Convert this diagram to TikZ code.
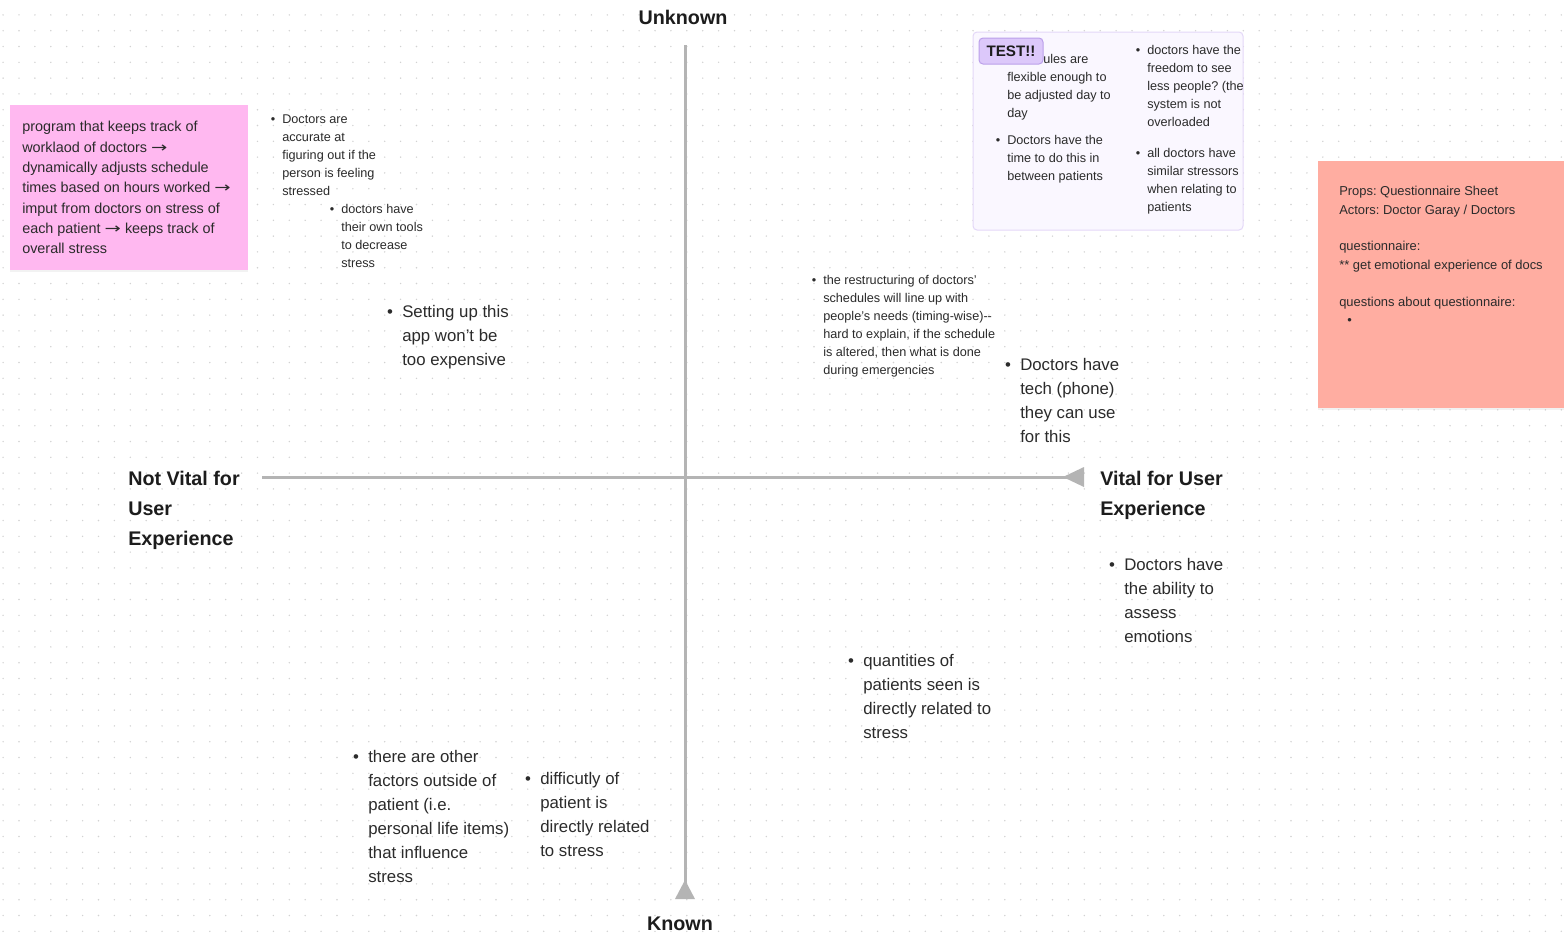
\documentclass[tikz,border=0pt]{standalone}
\usepackage{fontspec}
\setmainfont{Liberation Sans}
\newfontfamily\arrowfont{DejaVu Sans}
\usetikzlibrary{shadows,calc}
\definecolor{axisc}{HTML}{B4B4B4}
\definecolor{dotc}{HTML}{D2D2D2}
\definecolor{txt}{HTML}{2B2B2B}
\definecolor{head}{HTML}{1C1C1C}
\definecolor{pinkf}{HTML}{FFB8F0}
\definecolor{salmonf}{HTML}{FFADA1}
\definecolor{panelf}{HTML}{FAF7FF}
\definecolor{paneld}{HTML}{E4D8F8}
\definecolor{tagf}{HTML}{DCC8FA}
\definecolor{tagd}{HTML}{BBA0EA}
\newcommand\tstrut{\rule{0pt}{0.8em}}
\newcommand\bul{\llap{\textbullet\hspace{0.55em}}}
\newcommand\arr{{\arrowfont\scalebox{1.35}[1]{→}}}
\frenchspacing
\begin{document}
\begin{tikzpicture}[x=0.75pt,y=-0.75pt,
  txtbase/.style={anchor=north west, inner sep=0pt, align=left, text=txt},
  smalltxt/.style={txtbase, font=\frenchspacing\fontsize{9.5}{13.5}\selectfont},
  medtxt/.style={txtbase, font=\frenchspacing\fontsize{12.6}{18}\selectfont},
  stickytxt/.style={txtbase, font=\frenchspacing\fontsize{10.8}{15.2}\selectfont},
  salmontxt/.style={txtbase, font=\frenchspacing\fontsize{9.7}{13.8}\selectfont},
  headtxt/.style={inner sep=0pt, align=left, text=head, font=\bfseries\fontsize{14.8}{22.5}\selectfont},
  axis/.style={draw=axisc, line width=2.25pt},
  sticky/.style={inner sep=0pt, drop shadow={opacity=0.10, shadow xshift=0pt, shadow yshift=-1.5pt}}
]
\fill[white] (0,0) rectangle (1564,933);
\useasboundingbox (0,0) rectangle (1564,933);
% dot grid
\foreach \i in {0,...,98}{
  \foreach \j in {0,...,58}{
    \fill[dotc] ({3.1+\i*15.9},{14.9+\j*15.8}) circle (0.6pt);
  }
}
% axes
\coordinate (top) at (685,45);
\coordinate (bot) at (685,899);
\coordinate (lft) at (262,477);
\coordinate (rgt) at (1084,477);
\draw[axis] (top) -- (bot);
\draw[axis] (lft) -- (rgt);
\fill[axisc] ($(bot)+(-10,0)$) -- ($(bot)+(10,0)$) -- ($(bot)+(0,-19)$) -- cycle;
\fill[axisc] ($(rgt)+(0,-10)$) -- ($(rgt)+(0,10)$) -- ($(rgt)+(-21,0)$) -- cycle;
% axis labels
\node[headtxt, anchor=center] (unknown) at (683,17) {Unknown};
\node[headtxt, anchor=center] (known) at (680,924) {Known};
\node[headtxt, anchor=north west] (notvital) at (128,469.7) {\tstrut Not Vital for\\User\\Experience};
\node[headtxt, anchor=north west] (vital) at (1100,469.7) {\tstrut Vital for User\\Experience};
% pink sticky
\node[sticky, fill=pinkf, minimum width=178.5pt, minimum height=123.75pt] (pink) at (129,187.5) {};
\node[stickytxt] (pinktext) at (22,120.2) {\tstrut program that keeps track of\\worklaod of doctors \arr\\dynamically adjusts schedule\\times based on hours worked \arr\\imput from doctors on stress of\\each patient \arr{} keeps track of\\overall stress};
% salmon sticky
\node[sticky, fill=salmonf, minimum width=184.5pt, minimum height=185.25pt] (salmon) at (1441,284.5) {};
\node[salmontxt] (salmontext) at (1339,185) {\tstrut Props: Questionnaire Sheet\\Actors: Doctor Garay / Doctors\\\mbox{}\\questionnaire:\\** get emotional experience of docs\\\mbox{}\\questions about questionnaire:\\\hspace*{6pt}\textbullet};
% test panel
\node[draw=paneld, fill=panelf, line width=0.75pt, rounded corners=3pt, minimum width=202.5pt, minimum height=148.5pt, inner sep=0pt] (panel) at (1108,131) {};
\node[smalltxt] (sched) at (1007,53) {\tstrut\hspace*{27pt}ules are\\flexible enough to\\be adjusted day to\\day};
\node[smalltxt] (timedo) at (1007,134) {\tstrut\bul Doctors have the\\time to do this in\\between patients};
\node[smalltxt] (freedom) at (1147,44) {\tstrut\bul doctors have the\\freedom to see\\less people? (the\\system is not\\overloaded};
\node[smalltxt] (similar) at (1147,147) {\tstrut\bul all doctors have\\similar stressors\\when relating to\\patients};
\node[draw=tagd, fill=tagf, line width=0.75pt, rounded corners=3pt, minimum width=48pt, minimum height=19.5pt, inner sep=0pt, text=head, font=\bfseries\fontsize{11.4}{12}\selectfont] (test) at (1011,51) {TEST!!};
% quadrant notes
\node[smalltxt] (accurate) at (282,113) {\tstrut\bul Doctors are\\accurate at\\figuring out if the\\person is feeling\\stressed};
\node[smalltxt] (tools) at (341,203) {\tstrut\bul doctors have\\their own tools\\to decrease\\stress};
\node[medtxt] (setup) at (402,304) {\tstrut\bul Setting up this\\app won't be\\too expensive};
\node[smalltxt] (restruct) at (823,274) {\tstrut\bul the restructuring of doctors'\\schedules will line up with\\people's needs (timing-wise)-{}-\\hard to explain, if the schedule\\is altered, then what is done\\during emergencies};
\node[medtxt] (tech) at (1020,357) {\tstrut\bul Doctors have\\tech (phone)\\they can use\\for this};
\node[medtxt] (ability) at (1124,557) {\tstrut\bul Doctors have\\the ability to\\assess\\emotions};
\node[medtxt] (quant) at (863,653) {\tstrut\bul quantities of\\patients seen is\\directly related to\\stress};
\node[medtxt] (other) at (368,749) {\tstrut\bul there are other\\factors outside of\\patient (i.e.\\personal life items)\\that influence\\stress};
\node[medtxt] (difficulty) at (540,771) {\tstrut\bul difficutly of\\patient is\\directly related\\to stress};
\end{tikzpicture}
\end{document}
